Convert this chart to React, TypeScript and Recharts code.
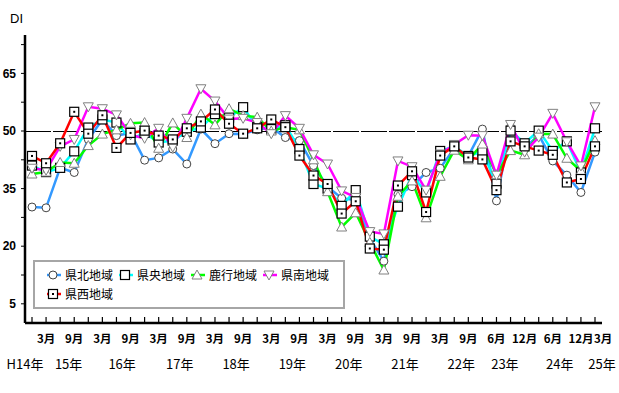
import React from "react";
import { LineChart, Line, XAxis, YAxis, ReferenceLine, Legend } from "recharts";

// 調査時点 (H23.3 は調査なし)
const CATEGORIES = [
  "H14.12",
  "H15.3", "H15.6", "H15.9", "H15.12",
  "H16.3", "H16.6", "H16.9", "H16.12",
  "H17.3", "H17.6", "H17.9", "H17.12",
  "H18.3", "H18.6", "H18.9", "H18.12",
  "H19.3", "H19.6", "H19.9", "H19.12",
  "H20.3", "H20.6", "H20.9", "H20.12",
  "H21.3", "H21.6", "H21.9", "H21.12",
  "H22.3", "H22.6", "H22.9", "H22.12",
  "H23.6", "H23.9", "H23.12",
  "H24.3", "H24.6", "H24.9", "H24.12",
  "H25.3",
];

const MONTH_LABELS = [
  "",
  "3月", "", "9月", "",
  "3月", "", "9月", "",
  "3月", "", "9月", "",
  "3月", "", "9月", "",
  "3月", "", "9月", "",
  "3月", "", "9月", "",
  "3月", "", "9月", "",
  "3月", "", "9月", "",
  "6月", "", "12月",
  "", "6月", "", "12月",
  "3月",
];

// 年ラベル (位置は調査時点の番号で表す)
const YEAR_POS = [-0.5, 2.6, 6.4, 10.5, 14.5, 18.5, 22.5, 26.5, 30.5, 33.6, 37.5, 40.5];
const YEAR_LABELS = ["H14年", "15年", "16年", "17年", "18年", "19年", "20年", "21年", "22年", "23年", "24年", "25年"];

const Y_TICKS = [5, 12.5, 20, 27.5, 35, 42.5, 50, 57.5, 65, 72.5];
const Y_LABELED = [5, 20, 35, 50, 65];

const KENPOKU = [30.2, 30.0, 40.4, 39.2, 47.8, 53.0, 48.8, 49.5, 42.4, 43.0, 45.3, 41.4, 50.5, 46.7, 49.3, 49.2, 50.3, 51.0, 48.3, 47.5, 41.0, 35.5, 32.5, 32.0, 22.0, 16.1, 33.5, 35.5, 39.2, 40.3, 45.5, 43.5, 50.5, 31.8, 51.0, 45.5, 49.0, 42.2, 38.5, 34.0, 44.5];
const KENOU = [41.0, 39.3, 40.4, 44.7, 50.9, 53.0, 52.2, 47.8, 49.5, 47.0, 47.5, 49.8, 50.9, 54.4, 53.5, 56.2, 51.0, 50.5, 51.5, 45.3, 36.2, 35.0, 30.5, 34.6, 22.5, 20.5, 30.3, 38.5, 34.0, 44.8, 46.0, 43.5, 44.6, 36.3, 50.1, 46.8, 50.1, 44.8, 47.3, 39.2, 50.7];
const ROKKO = [38.8, 39.3, 41.8, 41.6, 46.2, 49.2, 50.3, 52.0, 52.2, 45.5, 52.1, 48.3, 54.4, 51.6, 55.8, 54.0, 53.6, 50.0, 51.0, 50.3, 42.5, 34.2, 25.0, 28.7, 21.0, 13.8, 33.0, 37.0, 27.4, 38.2, 45.0, 42.5, 46.6, 38.6, 44.9, 43.8, 49.3, 49.2, 42.9, 39.6, 47.5];
const KENNAN = [40.3, 39.8, 46.0, 47.8, 56.3, 55.8, 54.2, 49.0, 48.1, 50.7, 45.8, 53.3, 61.0, 57.8, 53.1, 53.3, 52.2, 49.3, 54.0, 50.7, 43.8, 41.4, 34.4, 32.7, 23.8, 23.2, 42.2, 40.7, 34.6, 44.0, 46.5, 48.9, 48.8, 38.5, 51.7, 44.5, 48.4, 54.6, 47.2, 40.9, 56.3];
const KENSEI = [43.5, 41.6, 46.8, 55.0, 49.3, 54.1, 45.6, 49.5, 50.1, 48.8, 47.8, 50.7, 52.5, 55.6, 51.9, 49.3, 50.7, 53.0, 51.0, 43.6, 38.4, 36.2, 28.5, 31.7, 19.4, 19.1, 35.8, 39.5, 28.9, 43.6, 46.0, 43.1, 42.6, 34.6, 47.3, 46.0, 44.9, 43.8, 36.6, 37.5, 46.0];

type Shape = "circle" | "square" | "triUp" | "triDown" | "dotSquare";

const SERIES: { key: string; name: string; color: string; shape: Shape; values: number[] }[] = [
  { key: "kenpoku", name: "県北地域", color: "#3399ff", shape: "circle", values: KENPOKU },
  { key: "kenou", name: "県央地域", color: "#00ffff", shape: "square", values: KENOU },
  { key: "rokko", name: "鹿行地域", color: "#00ff00", shape: "triUp", values: ROKKO },
  { key: "kennan", name: "県南地域", color: "#ff00ff", shape: "triDown", values: KENNAN },
  { key: "kensei", name: "県西地域", color: "#ff0000", shape: "dotSquare", values: KENSEI },
];

const data = CATEGORIES.map((cat, i) => {
  const row: Record<string, string | number> = { cat, idx: i };
  SERIES.forEach((s) => {
    row[s.key] = s.values[i];
  });
  return row;
});

const JP = '"Noto Sans CJK JP", "Noto Sans", sans-serif';
const NUM = '"Liberation Sans", Arial, sans-serif';

function marker(shape: Shape, cx: number, cy: number, key?: React.Key) {
  switch (shape) {
    case "circle":
      return <circle key={key} cx={cx} cy={cy} r={4} fill="#fff" stroke="#444" strokeWidth={1} />;
    case "square":
      return <rect key={key} x={cx - 4.5} y={cy - 4.5} width={9} height={9} fill="#fff" stroke="#000" strokeWidth={1.2} />;
    case "triUp":
      return (
        <polygon key={key} points={`${cx},${cy - 5} ${cx + 5},${cy + 4} ${cx - 5},${cy + 4}`} fill="#fff" stroke="#808080" strokeWidth={1} />
      );
    case "triDown":
      return (
        <polygon key={key} points={`${cx - 5},${cy - 4} ${cx + 5},${cy - 4} ${cx},${cy + 5}`} fill="#fff" stroke="#808080" strokeWidth={1} />
      );
    default:
      return (
        <g key={key}>
          <rect x={cx - 4.5} y={cy - 4.5} width={9} height={9} fill="#fff" stroke="#000" strokeWidth={1.2} />
          <rect x={cx - 1} y={cy - 1} width={2} height={2} fill="#000" />
        </g>
      );
  }
}

const makeDot = (shape: Shape) => (props: any) => {
  const { cx, cy, index } = props;
  if (cx == null || cy == null) return <g key={index} />;
  return marker(shape, cx, cy, index);
};

const MonthTick = (props: any) => {
  const { x, y, payload } = props;
  const i = CATEGORIES.indexOf(payload.value);
  const label = MONTH_LABELS[i] || "";
  const last = i === CATEGORIES.length - 1;
  return (
    <g>
      <line x1={x} y1={y} x2={x} y2={y - 6} stroke="#000" strokeWidth={1.2} />
      {label && (
        <text
          x={last ? x - 1 : x}
          y={y + 15}
          textAnchor={last ? "start" : "middle"}
          dominantBaseline="central"
          fontFamily={JP}
          fontSize={11.5}
          fontWeight={700}
          fill="#000"
        >
          {label}
        </text>
      )}
    </g>
  );
};

const YearTick = (props: any) => {
  const { x, y, payload } = props;
  const label = YEAR_LABELS[YEAR_POS.indexOf(payload.value)] || "";
  return (
    <text x={x} y={y + 18} textAnchor="middle" dominantBaseline="central" fontFamily={JP} fontSize={13} fill="#000">
      {label}
    </text>
  );
};

const LegendBox = () => (
  <div
    style={{
      boxSizing: "border-box",
      width: 312,
      height: 49,
      border: "2px solid #a6a6a6",
      background: "#fff",
      position: "relative",
      fontFamily: JP,
      fontSize: 12,
      color: "#000",
    }}
  >
    {SERIES.map((s, i) => (
      <div
        key={s.key}
        style={{
          position: "absolute",
          left: 8 + (i % 4) * 72,
          top: i < 4 ? 5 : 24,
          height: 16,
          display: "flex",
          alignItems: "center",
          whiteSpace: "nowrap",
        }}
      >
        <svg width={20} height={14} style={{ display: "block" }}>
          <line x1={4} y1={7} x2={18} y2={7} stroke={s.color} strokeWidth={2.5} />
          {marker(s.shape, 10, 7)}
        </svg>
        <span style={{ marginLeft: 2, lineHeight: "16px" }}>{s.name}</span>
      </div>
    ))}
  </div>
);

export default function App() {
  return (
    <div style={{ position: "absolute", left: 0, top: 0, width: 619, height: 393, background: "#fff" }}>
      <div style={{ position: "absolute", left: 10, top: 11, fontFamily: NUM, fontSize: 13, lineHeight: "15px", color: "#000" }}>DI</div>
      <LineChart width={619} height={393} data={data} margin={{ top: 35, right: 17, bottom: 8, left: 0 }}>
        <XAxis
          dataKey="cat"
          type="category"
          interval={0}
          padding={{ left: 7, right: 7 }}
          height={22}
          tickSize={0}
          tickMargin={0}
          tickLine={false}
          axisLine={{ stroke: "#000", strokeWidth: 2.5 }}
          tick={<MonthTick />}
        />
        <XAxis
          xAxisId="year"
          dataKey="idx"
          type="number"
          domain={[-0.5, 40.5]}
          allowDataOverflow
          ticks={YEAR_POS}
          interval={0}
          height={40}
          tickSize={0}
          tickMargin={0}
          tickLine={false}
          axisLine={false}
          tick={<YearTick />}
        />
        <XAxis
          xAxisId="top"
          dataKey="cat"
          orientation="top"
          height={0}
          tick={false}
          tickLine={false}
          axisLine={{ stroke: "#000", strokeWidth: 2.5 }}
        />
        <YAxis
          domain={[0, 75]}
          ticks={Y_TICKS}
          interval={0}
          width={25}
          tickSize={4}
          tickMargin={5}
          tickLine={{ stroke: "#000", strokeWidth: 1 }}
          axisLine={{ stroke: "#000", strokeWidth: 2.5 }}
          tickFormatter={(v: number) => (Y_LABELED.includes(v) ? String(v) : "")}
          tick={{ fontFamily: NUM, fontSize: 12, fontWeight: 700, fill: "#000" }}
        />
        <YAxis
          yAxisId="right"
          orientation="right"
          domain={[0, 75]}
          width={0}
          tick={false}
          tickLine={false}
          axisLine={{ stroke: "#000", strokeWidth: 2.5 }}
        />
        <ReferenceLine y={50} stroke="#000" strokeWidth={1} strokeDasharray="26 2" shapeRendering="crispEdges" />
        {SERIES.map((s) => (
          <Line
            key={s.key}
            type="linear"
            dataKey={s.key}
            name={s.name}
            stroke={s.color}
            strokeWidth={2.5}
            dot={makeDot(s.shape)}
            activeDot={false}
            isAnimationActive={false}
          />
        ))}
        <Legend
          layout="horizontal"
          verticalAlign="middle"
          align="center"
          wrapperStyle={{ left: 33, top: 260, width: 312, height: 49 }}
          content={() => <LegendBox />}
        />
      </LineChart>
    </div>
  );
}
